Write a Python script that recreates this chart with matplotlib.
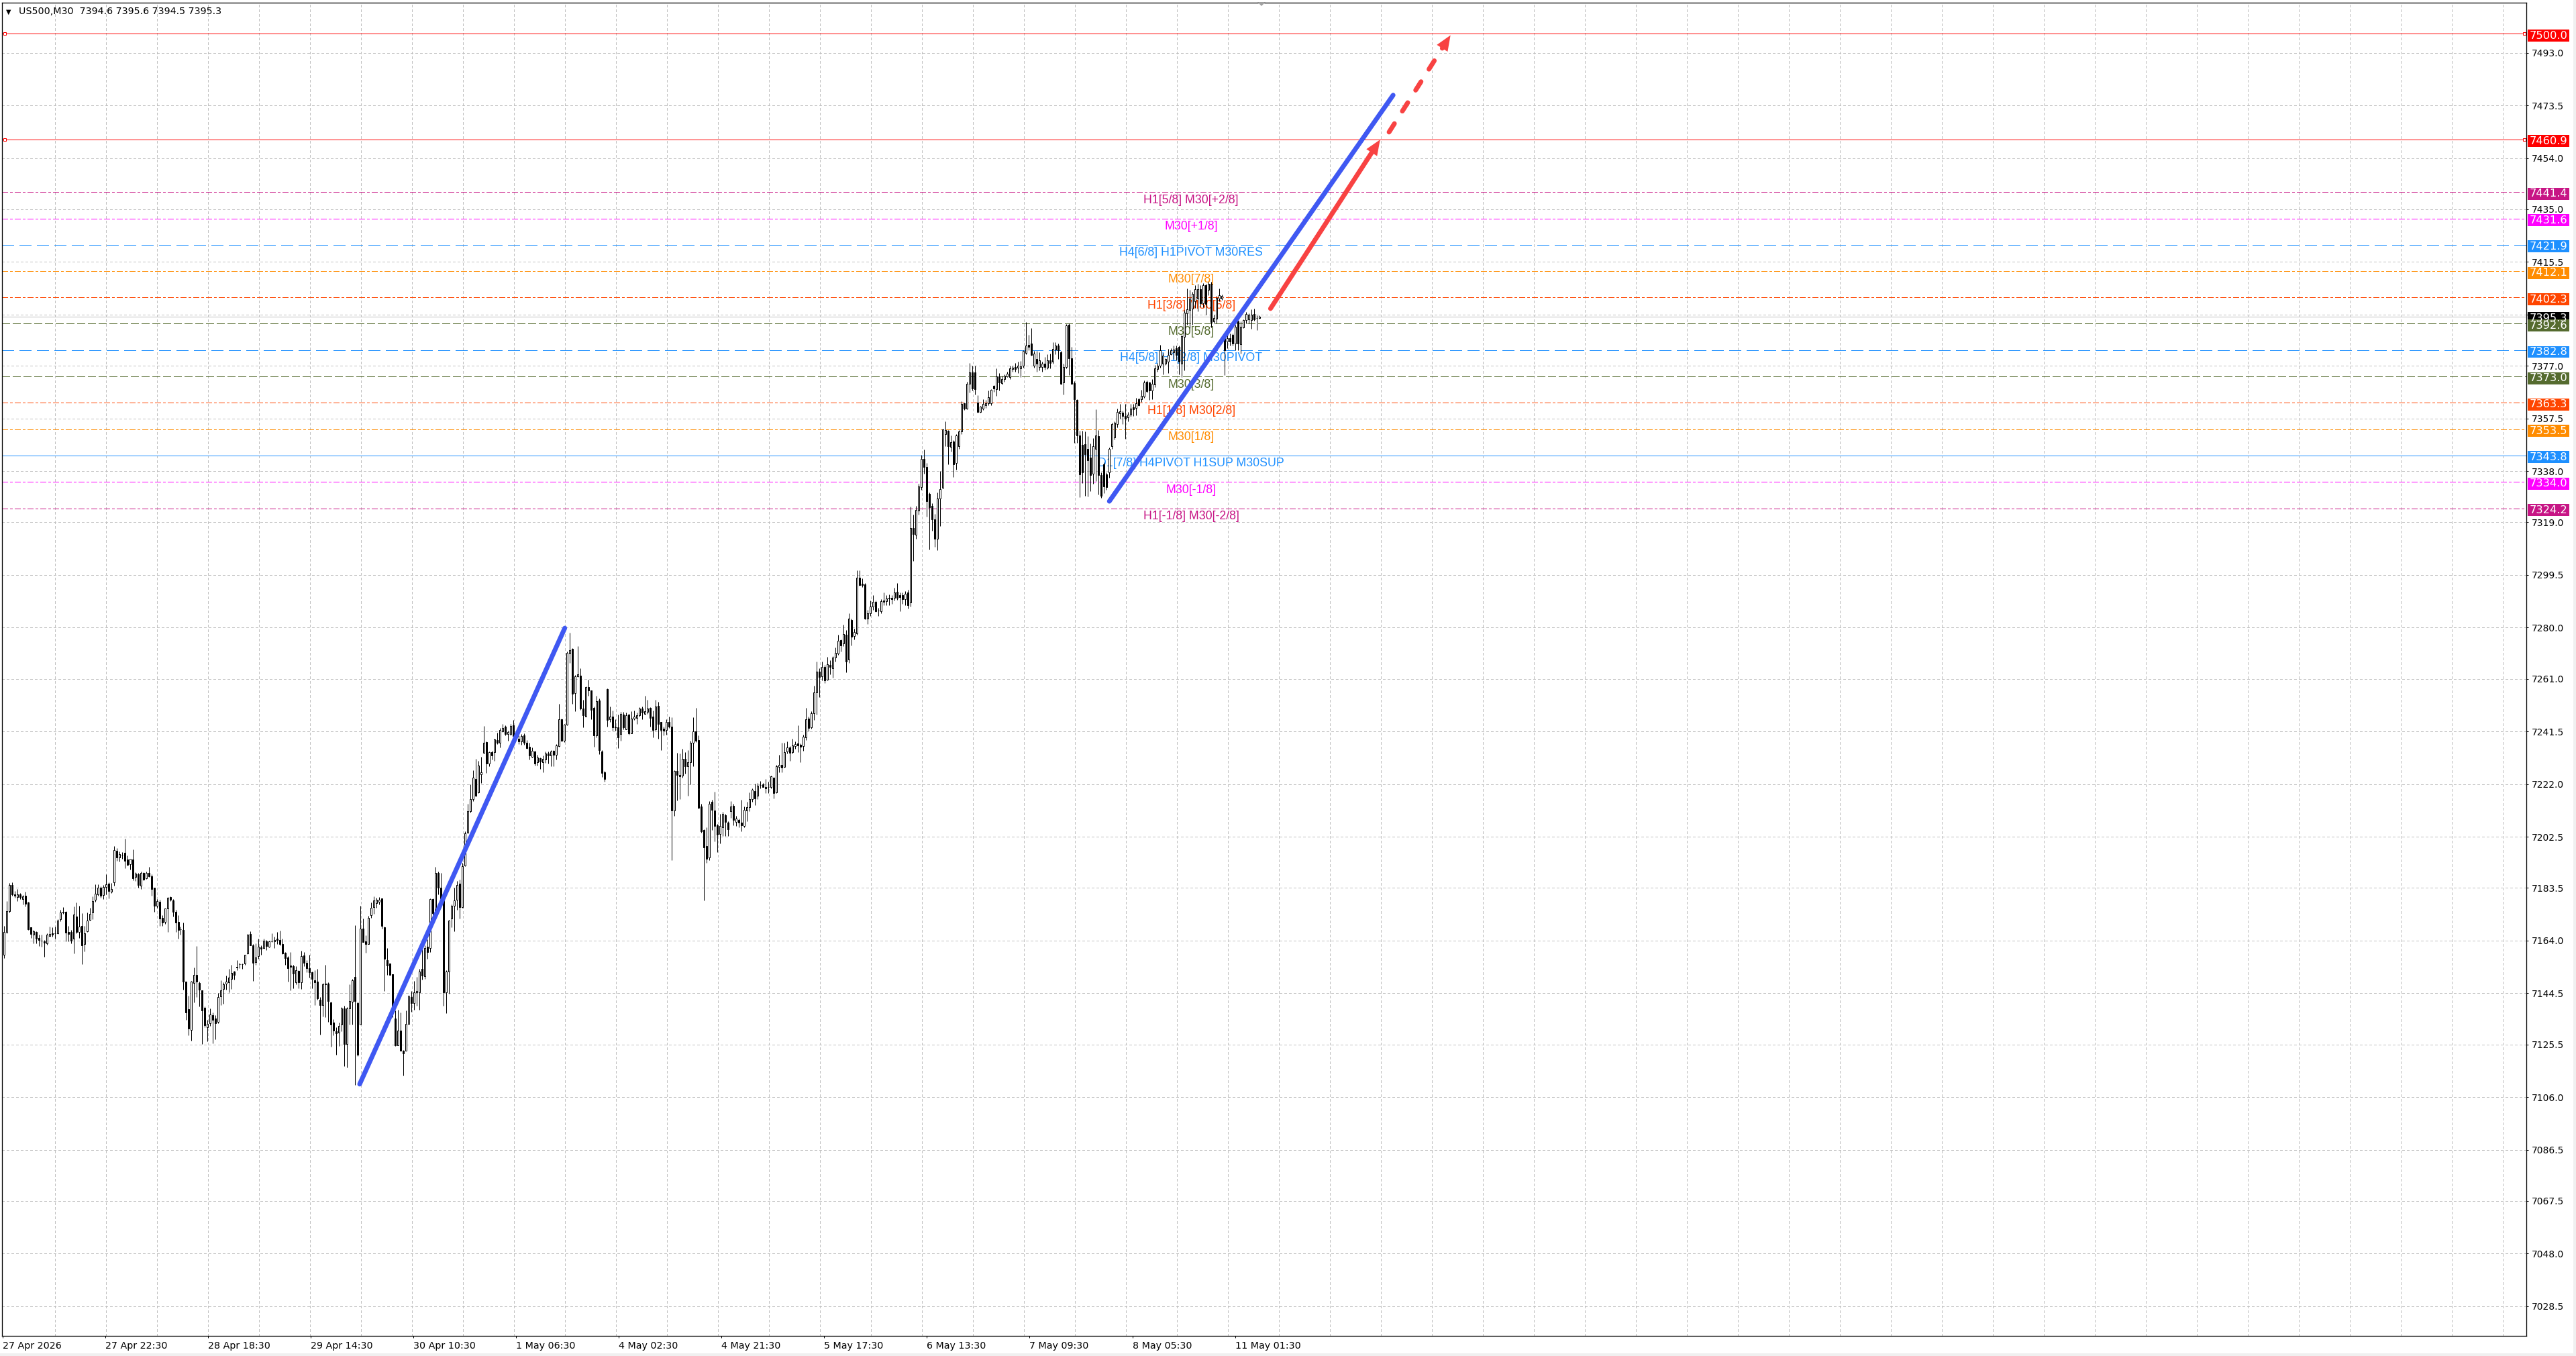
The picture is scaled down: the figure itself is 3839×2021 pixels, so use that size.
import numpy as np
import matplotlib
matplotlib.use("Agg")
import matplotlib.pyplot as plt
import matplotlib.transforms as mtransforms
from matplotlib.patches import Rectangle, Polygon

plt.rcParams["lines.scale_dashes"] = False
plt.rcParams["font.family"] = ["DejaVu Sans"]

# ---------------- DATA ----------------
SYMBOL_TITLE = "US500,M30  7394.6 7395.6 7394.5 7395.3"

# OHLC rows (open, high, low, close) per 30-minute bar
bars_27_28_apr = [
    (7158.8, 7169.5, 7157.5, 7167.1), (7167.1, 7178.7, 7166.6, 7174.9), (7174.9, 7185.3, 7174.5, 7184.6),
    (7184.6, 7185.7, 7180.7, 7181.1), (7181.1, 7182.4, 7179.9, 7180.6), (7180.1, 7183.2, 7178.7, 7181.1),
    (7181.1, 7181.6, 7179.5, 7180.1), (7179.5, 7180.9, 7177.4, 7180.3), (7180.6, 7182.0, 7176.6, 7177.6),
    (7178.1, 7178.3, 7168.0, 7168.3), (7168.9, 7168.9, 7165.0, 7166.4), (7166.1, 7167.9, 7162.9, 7167.5),
    (7167.2, 7167.5, 7162.9, 7164.8), (7165.0, 7166.2, 7162.1, 7164.2), (7163.9, 7166.2, 7161.7, 7163.9),
    (7163.7, 7164.2, 7158.1, 7163.1), (7162.9, 7166.6, 7162.5, 7166.2), (7165.8, 7169.1, 7165.4, 7166.5),
    (7166.6, 7168.9, 7165.4, 7166.2), (7166.6, 7169.1, 7164.6, 7166.6), (7166.8, 7172.0, 7166.4, 7171.4),
    (7171.9, 7175.5, 7171.2, 7174.3), (7174.3, 7176.4, 7173.9, 7174.7), (7174.7, 7174.9, 7163.6, 7166.9),
    (7167.1, 7169.5, 7163.7, 7166.4), (7167.1, 7167.9, 7162.9, 7163.9), (7164.6, 7176.6, 7159.2, 7173.7),
    (7172.9, 7178.2, 7166.6, 7167.3), (7167.3, 7176.8, 7165.0, 7169.1), (7169.5, 7174.1, 7155.3, 7162.3),
    (7162.7, 7169.5, 7160.0, 7166.6), (7167.5, 7174.4, 7167.1, 7171.4), (7171.6, 7176.2, 7171.4, 7173.9),
    (7174.3, 7180.3, 7172.0, 7178.7), (7179.1, 7184.9, 7178.4, 7181.3), (7181.1, 7184.9, 7180.7, 7183.6),
    (7183.6, 7184.0, 7179.9, 7180.7), (7180.9, 7184.6, 7179.3, 7183.8), (7183.8, 7188.6, 7181.1, 7184.9),
    (7185.1, 7185.5, 7179.7, 7182.4), (7182.0, 7185.3, 7181.6, 7183.0), (7185.7, 7199.0, 7184.3, 7197.5),
    (7197.3, 7198.4, 7193.6, 7194.8), (7194.8, 7197.0, 7193.4, 7196.1), (7195.6, 7196.9, 7194.4, 7195.6),
    (7196.5, 7201.7, 7190.7, 7193.6), (7194.0, 7195.6, 7191.7, 7192.1), (7192.3, 7194.4, 7190.3, 7194.2),
    (7194.0, 7197.9, 7186.3, 7187.1), (7187.6, 7189.4, 7186.1, 7188.8), (7188.6, 7189.0, 7183.5, 7184.5),
    (7184.3, 7189.6, 7183.2, 7189.0), (7189.0, 7189.4, 7186.3, 7186.7), (7187.1, 7189.6, 7186.8, 7189.0),
    (7189.0, 7191.3, 7187.6, 7187.8), (7187.8, 7188.6, 7180.7, 7183.0), (7183.5, 7183.5, 7174.7, 7176.8),
    (7177.0, 7179.3, 7176.2, 7178.7), (7178.4, 7179.1, 7169.5, 7172.2), (7172.4, 7173.3, 7169.5, 7170.8),
    (7171.0, 7175.8, 7170.2, 7175.8), (7175.8, 7180.2, 7167.1, 7179.9), (7180.1, 7180.5, 7178.7, 7179.1),
    (7178.8, 7179.5, 7172.9, 7174.7), (7174.7, 7175.3, 7167.1, 7170.8), (7171.0, 7173.4, 7164.8, 7167.9),
    (7168.1, 7169.3, 7166.2, 7168.1), (7167.9, 7170.8, 7145.7, 7148.8), (7148.8, 7148.8, 7134.6, 7137.4),
    (7138.5, 7143.7, 7128.8, 7131.3), (7131.0, 7149.0, 7126.9, 7148.8), (7148.3, 7154.0, 7141.0, 7151.3),
    (7151.2, 7162.1, 7143.0, 7148.8), (7148.4, 7148.8, 7139.7, 7145.7), (7145.5, 7145.5, 7125.6, 7138.1),
    (7139.1, 7139.7, 7131.8, 7132.7), (7132.0, 7134.7, 7126.6, 7133.1), (7133.3, 7138.9, 7132.3, 7136.6),
    (7136.4, 7137.4, 7126.0, 7134.7), (7135.2, 7136.4, 7127.3, 7133.3), (7133.9, 7144.5, 7133.5, 7143.2),
    (7143.4, 7149.4, 7140.1, 7145.5),
]

bars_29_30_apr = [
    (7146.0, 7148.5, 7140.6, 7147.7), (7148.0, 7151.0, 7145.8, 7148.8), (7148.5, 7153.4, 7144.9, 7150.4),
    (7149.7, 7154.9, 7146.0, 7152.1), (7152.6, 7152.8, 7149.6, 7151.2), (7154.3, 7156.8, 7153.0, 7153.9),
    (7155.3, 7155.7, 7153.7, 7155.3), (7155.3, 7155.5, 7153.5, 7155.3), (7155.4, 7158.8, 7155.1, 7158.7),
    (7159.3, 7166.5, 7159.0, 7166.3), (7166.5, 7167.5, 7162.2, 7162.3), (7162.3, 7162.6, 7149.1, 7155.7),
    (7155.9, 7163.0, 7154.9, 7157.8), (7158.2, 7164.6, 7157.2, 7161.7), (7161.5, 7162.2, 7158.8, 7160.9),
    (7161.3, 7164.6, 7160.9, 7164.0), (7163.8, 7164.2, 7160.5, 7162.0), (7161.7, 7164.0, 7161.5, 7163.8),
    (7163.8, 7166.7, 7163.4, 7163.8), (7163.7, 7165.5, 7161.2, 7164.2), (7164.6, 7167.1, 7162.8, 7164.2),
    (7164.2, 7167.8, 7162.3, 7162.6), (7162.8, 7164.6, 7159.0, 7159.3), (7159.5, 7159.8, 7155.1, 7157.4),
    (7157.8, 7158.2, 7148.9, 7153.7), (7154.7, 7159.7, 7145.6, 7154.3), (7154.5, 7155.1, 7146.3, 7151.8),
    (7148.5, 7154.5, 7147.9, 7153.1), (7152.9, 7153.1, 7146.4, 7148.5), (7148.5, 7160.3, 7146.0, 7158.2),
    (7158.4, 7159.7, 7154.5, 7155.7), (7155.7, 7156.8, 7152.2, 7153.7), (7153.7, 7158.7, 7150.4, 7152.2),
    (7152.4, 7152.6, 7146.3, 7149.9), (7149.3, 7153.1, 7140.2, 7148.5), (7148.7, 7153.5, 7142.1, 7142.7),
    (7142.1, 7143.1, 7129.2, 7140.2), (7140.2, 7148.2, 7135.8, 7147.7), (7148.1, 7155.1, 7135.6, 7147.7),
    (7148.1, 7148.5, 7133.8, 7141.6), (7141.0, 7141.4, 7124.7, 7133.0), (7133.6, 7134.8, 7129.0, 7130.7),
    (7130.5, 7131.9, 7121.7, 7129.7), (7129.8, 7133.6, 7124.9, 7132.5), (7133.0, 7139.4, 7130.5, 7138.8),
    (7138.9, 7139.8, 7117.4, 7125.7), (7125.7, 7139.4, 7117.0, 7138.9), (7138.9, 7147.7, 7132.8, 7141.6),
    (7141.4, 7149.7, 7133.0, 7149.3), (7150.5, 7169.6, 7110.4, 7141.6), (7140.8, 7141.4, 7121.1, 7121.6),
    (7133.0, 7176.9, 7133.0, 7168.4), (7168.4, 7172.1, 7163.4, 7163.4), (7163.8, 7165.9, 7159.5, 7162.8),
    (7162.8, 7173.1, 7162.8, 7172.5), (7173.3, 7178.1, 7172.5, 7176.2), (7176.4, 7180.5, 7173.8, 7178.9),
    (7177.9, 7180.0, 7176.1, 7179.1), (7178.3, 7180.2, 7177.5, 7179.1), (7179.6, 7179.7, 7168.4, 7169.5),
    (7168.9, 7169.2, 7145.4, 7157.2), (7156.8, 7161.3, 7151.4, 7154.7), (7155.4, 7155.5, 7151.2, 7151.4),
    (7151.6, 7151.6, 7135.5, 7138.8), (7135.2, 7138.1, 7125.0, 7125.3), (7125.3, 7138.3, 7125.1, 7130.7),
    (7130.7, 7137.3, 7123.2, 7123.2), (7123.1, 7123.4, 7114.1, 7122.2), (7123.2, 7138.0, 7123.1, 7133.2),
    (7133.2, 7143.8, 7132.8, 7143.3), (7143.1, 7145.2, 7137.5, 7140.8), (7140.8, 7149.1, 7138.3, 7144.9),
    (7144.8, 7150.6, 7139.8, 7145.2), (7144.8, 7153.5, 7138.3, 7152.6), (7153.5, 7160.9, 7149.6, 7151.0),
    (7150.7, 7162.2, 7149.7, 7161.3), (7161.7, 7164.5, 7157.2, 7159.8), (7161.2, 7179.7, 7159.7, 7179.4),
    (7179.4, 7179.7, 7173.3, 7174.2), (7174.2, 7191.2, 7173.8, 7189.1), (7189.1, 7189.5, 7181.2, 7183.5),
    (7183.5, 7189.1, 7179.4, 7179.7), (7179.7, 7180.0, 7139.8, 7144.9), (7144.9, 7153.0, 7137.1, 7152.6),
    (7152.6, 7171.7, 7144.3, 7171.4), (7172.1, 7177.5, 7169.0, 7176.9), (7177.0, 7183.7, 7167.5, 7178.9),
    (7179.1, 7186.2, 7175.4, 7184.7), (7185.2, 7186.6, 7172.1, 7176.4), (7176.4, 7192.8, 7176.2, 7191.6),
]

bars_30apr_4may = [
    (7191.9, 7204.5, 7191.6, 7203.8), (7204.1, 7214.8, 7203.8, 7211.9), (7211.9, 7221.8, 7211.5, 7216.5),
    (7216.5, 7227.0, 7215.6, 7224.3), (7223.9, 7231.4, 7217.5, 7217.7), (7219.0, 7230.5, 7218.7, 7228.9),
    (7225.6, 7232.2, 7222.3, 7226.4), (7233.6, 7243.6, 7233.4, 7237.4), (7237.6, 7237.8, 7226.2, 7229.7),
    (7229.7, 7234.1, 7228.6, 7233.9), (7233.9, 7234.4, 7231.0, 7232.5), (7233.9, 7238.8, 7230.5, 7238.6),
    (7238.4, 7241.1, 7236.9, 7237.4), (7237.4, 7242.7, 7235.5, 7242.1), (7241.6, 7244.2, 7241.3, 7242.7),
    (7243.4, 7243.8, 7240.1, 7240.5), (7240.5, 7241.7, 7238.0, 7241.2), (7240.5, 7244.4, 7240.1, 7243.6),
    (7243.8, 7245.7, 7239.4, 7239.9), (7239.9, 7241.7, 7238.4, 7239.2), (7238.8, 7240.1, 7236.8, 7237.8),
    (7237.8, 7240.5, 7236.6, 7239.9), (7240.1, 7240.7, 7236.6, 7237.4), (7237.4, 7238.4, 7235.1, 7235.3),
    (7235.9, 7237.2, 7231.1, 7232.5), (7232.0, 7235.5, 7231.8, 7234.3), (7234.1, 7234.3, 7228.9, 7229.5),
    (7230.1, 7232.8, 7228.9, 7231.8), (7231.6, 7231.8, 7227.6, 7230.3), (7230.1, 7232.6, 7226.4, 7231.4),
    (7231.1, 7234.1, 7229.9, 7233.3), (7233.3, 7234.1, 7229.5, 7232.6), (7232.6, 7234.7, 7228.6, 7234.1),
    (7234.3, 7234.7, 7228.5, 7232.8), (7232.8, 7236.8, 7231.1, 7236.3), (7236.1, 7251.7, 7235.9, 7246.0),
    (7246.0, 7246.3, 7237.8, 7238.0), (7238.0, 7244.2, 7237.6, 7244.0), (7244.0, 7271.1, 7243.8, 7270.7),
    (7270.5, 7278.2, 7266.8, 7271.7), (7272.2, 7272.4, 7251.7, 7255.4), (7255.6, 7262.4, 7249.0, 7262.0),
    (7262.0, 7273.2, 7261.6, 7262.6), (7262.3, 7264.8, 7249.6, 7249.9), (7249.9, 7253.2, 7243.0, 7247.4),
    (7247.1, 7258.3, 7246.9, 7257.9), (7257.9, 7260.8, 7254.6, 7256.6), (7256.6, 7256.8, 7245.9, 7249.6),
    (7250.2, 7250.8, 7235.9, 7240.1), (7240.1, 7254.6, 7239.2, 7252.7), (7253.1, 7253.7, 7233.0, 7234.7),
    (7234.1, 7234.7, 7224.7, 7226.2), (7226.4, 7226.8, 7222.9, 7223.9), (7257.3, 7257.5, 7243.4, 7245.7),
    (7246.0, 7250.8, 7244.9, 7247.1), (7246.9, 7249.2, 7241.7, 7243.0), (7243.1, 7245.9, 7241.7, 7243.4),
    (7243.0, 7247.7, 7235.3, 7239.2), (7240.5, 7248.8, 7238.0, 7247.9), (7247.7, 7248.8, 7242.4, 7243.0),
    (7242.4, 7248.4, 7242.2, 7247.5), (7247.7, 7248.0, 7240.2, 7240.7), (7240.9, 7249.0, 7240.7, 7246.3),
    (7246.3, 7249.2, 7245.7, 7246.9), (7246.5, 7248.4, 7244.2, 7247.4), (7247.5, 7250.4, 7247.1, 7249.9),
    (7250.0, 7250.7, 7246.0, 7248.4), (7248.0, 7254.8, 7247.7, 7249.0), (7248.8, 7253.3, 7247.9, 7250.0),
    (7250.2, 7250.4, 7243.4, 7246.5), (7246.9, 7249.2, 7239.2, 7242.1), (7242.4, 7253.3, 7241.7, 7250.8),
    (7251.0, 7252.5, 7238.8, 7244.4), (7244.9, 7245.1, 7234.7, 7242.1), (7242.6, 7243.4, 7240.1, 7241.7),
    (7242.1, 7245.9, 7240.3, 7244.9), (7244.9, 7247.1, 7242.7, 7243.4), (7243.4, 7246.7, 7193.7, 7212.3),
    (7212.3, 7227.2, 7210.3, 7226.8), (7226.8, 7233.6, 7216.0, 7225.3), (7225.3, 7233.4, 7216.5, 7224.8),
    (7225.2, 7235.1, 7224.3, 7231.4), (7231.4, 7233.8, 7226.0, 7228.5), (7228.5, 7234.7, 7217.7, 7230.0),
    (7230.0, 7238.0, 7221.8, 7237.2), (7237.2, 7246.7, 7228.5, 7241.6), (7241.6, 7250.2, 7237.6, 7238.0),
    (7238.3, 7240.1, 7212.9, 7213.2), (7213.7, 7214.8, 7204.0, 7204.4), (7204.9, 7205.3, 7178.8, 7198.6),
]

bars_5_7_may = [
    (7199.0, 7205.9, 7192.7, 7194.4), (7194.8, 7215.8, 7193.8, 7214.7), (7215.4, 7216.1, 7204.9, 7212.4),
    (7212.2, 7219.2, 7200.7, 7206.4), (7206.7, 7207.2, 7196.9, 7203.2), (7203.5, 7210.9, 7199.9, 7206.4),
    (7206.0, 7211.6, 7202.8, 7210.9), (7210.5, 7210.9, 7202.8, 7208.0), (7207.7, 7208.2, 7202.8, 7205.3),
    (7211.9, 7215.6, 7209.5, 7213.6), (7214.0, 7214.7, 7206.7, 7208.8), (7208.0, 7210.3, 7206.4, 7209.1),
    (7208.8, 7209.1, 7206.1, 7207.7), (7207.7, 7216.1, 7204.6, 7206.7), (7206.4, 7213.7, 7205.9, 7212.4),
    (7212.2, 7215.4, 7208.3, 7213.5), (7213.5, 7218.9, 7211.9, 7216.4), (7216.4, 7220.3, 7215.4, 7220.0),
    (7219.5, 7222.1, 7214.3, 7216.8), (7217.7, 7222.4, 7216.4, 7221.3), (7221.6, 7223.1, 7220.3, 7221.6),
    (7221.8, 7222.4, 7220.8, 7221.0), (7220.8, 7223.9, 7218.7, 7220.3), (7220.8, 7222.9, 7218.7, 7220.8),
    (7221.0, 7225.2, 7220.3, 7224.8), (7224.5, 7224.5, 7216.8, 7218.7), (7218.9, 7229.2, 7218.7, 7228.7),
    (7228.4, 7232.9, 7226.3, 7229.2), (7229.2, 7237.4, 7226.3, 7228.2), (7228.4, 7237.4, 7228.2, 7233.9),
    (7234.2, 7237.8, 7233.4, 7235.5), (7235.5, 7236.0, 7230.5, 7233.6), (7233.9, 7238.8, 7233.4, 7236.3),
    (7236.0, 7237.8, 7235.0, 7236.8), (7237.0, 7243.7, 7233.9, 7236.3), (7236.5, 7237.0, 7230.0, 7235.7),
    (7236.0, 7240.2, 7234.4, 7239.5), (7239.2, 7250.2, 7238.4, 7245.9), (7246.2, 7247.0, 7241.6, 7242.8),
    (7243.1, 7249.1, 7242.6, 7248.3), (7248.3, 7258.5, 7245.8, 7255.9), (7255.9, 7267.4, 7247.7, 7263.6),
    (7263.6, 7264.8, 7254.3, 7261.7), (7261.9, 7267.4, 7260.4, 7265.4), (7265.4, 7266.1, 7259.4, 7260.4),
    (7260.8, 7269.2, 7260.4, 7266.4), (7266.1, 7268.0, 7262.7, 7265.4), (7265.0, 7269.5, 7261.5, 7268.8),
    (7269.0, 7272.7, 7267.4, 7270.6), (7270.3, 7277.4, 7269.9, 7275.1), (7275.3, 7275.5, 7271.1, 7273.4),
    (7274.0, 7281.1, 7273.2, 7277.6), (7277.4, 7279.0, 7263.3, 7267.4), (7268.2, 7285.3, 7266.9, 7283.2),
    (7282.9, 7283.2, 7273.4, 7276.6), (7276.9, 7279.5, 7275.5, 7278.3), (7277.9, 7301.3, 7277.4, 7298.4),
    (7298.4, 7301.3, 7295.4, 7295.7), (7296.3, 7298.2, 7295.0, 7295.7), (7296.0, 7296.5, 7283.0, 7283.2),
    (7283.2, 7286.6, 7281.4, 7285.3), (7285.3, 7290.0, 7284.2, 7287.7), (7287.7, 7291.9, 7286.6, 7289.5),
    (7289.5, 7290.0, 7285.8, 7286.0), (7286.3, 7287.4, 7284.2, 7286.3), (7286.0, 7290.5, 7285.3, 7289.8),
    (7290.0, 7292.9, 7288.4, 7289.5), (7289.8, 7292.1, 7288.4, 7290.8), (7291.0, 7292.3, 7288.4, 7290.8),
    (7291.0, 7292.1, 7288.9, 7290.5), (7291.0, 7294.7, 7290.0, 7292.9), (7293.3, 7296.5, 7290.2, 7291.0),
    (7291.9, 7293.1, 7286.0, 7291.2), (7292.1, 7293.1, 7288.9, 7290.5), (7290.5, 7293.6, 7288.4, 7292.6),
    (7293.1, 7294.0, 7287.1, 7288.4), (7289.2, 7324.8, 7287.7, 7317.0), (7317.0, 7321.9, 7304.7, 7314.6),
    (7314.3, 7325.1, 7313.0, 7323.7), (7323.3, 7333.2, 7321.9, 7332.4), (7332.1, 7344.0, 7331.0, 7342.5),
    (7342.5, 7346.0, 7337.0, 7339.5), (7339.5, 7341.0, 7321.0, 7326.9), (7329.6, 7330.0, 7309.0, 7324.6),
    (7325.0, 7326.0, 7316.0, 7320.2), (7320.0, 7322.0, 7310.0, 7312.8), (7313.0, 7330.0, 7308.6, 7327.7),
]

bars_7_11_may = [
    (7327.9, 7338.0, 7317.7, 7331.4), (7331.8, 7353.6, 7331.6, 7353.4), (7351.7, 7356.3, 7347.1, 7353.1),
    (7353.0, 7353.1, 7340.5, 7347.1), (7347.0, 7351.3, 7345.3, 7348.6), (7349.0, 7349.5, 7335.7, 7340.5),
    (7340.9, 7351.7, 7338.4, 7351.3), (7347.3, 7353.1, 7346.3, 7352.8), (7352.8, 7363.9, 7351.7, 7362.9),
    (7363.1, 7363.3, 7360.6, 7361.1), (7361.2, 7371.2, 7360.8, 7370.3), (7370.3, 7378.0, 7367.2, 7374.5),
    (7374.5, 7377.1, 7367.9, 7368.5), (7374.5, 7377.1, 7366.4, 7368.3), (7363.3, 7366.2, 7359.7, 7360.0),
    (7360.0, 7362.2, 7359.6, 7361.9), (7361.2, 7364.5, 7360.6, 7362.9), (7362.5, 7364.4, 7361.4, 7363.1),
    (7363.1, 7367.9, 7362.5, 7365.4), (7363.1, 7368.3, 7362.5, 7368.0), (7369.5, 7369.8, 7367.4, 7368.7),
    (7368.3, 7376.1, 7365.8, 7373.0), (7373.0, 7374.3, 7367.9, 7370.8), (7370.5, 7373.2, 7370.2, 7372.0),
    (7372.0, 7373.7, 7371.2, 7373.2), (7373.0, 7374.9, 7372.7, 7374.1), (7372.8, 7377.0, 7372.0, 7376.0),
    (7375.7, 7377.1, 7374.9, 7376.3), (7376.6, 7378.0, 7374.7, 7375.7), (7376.3, 7378.6, 7374.3, 7377.0),
    (7376.1, 7378.8, 7372.8, 7376.9), (7377.0, 7382.8, 7376.3, 7382.4), (7381.8, 7393.1, 7381.3, 7384.4),
    (7384.8, 7388.6, 7382.8, 7384.0), (7385.3, 7390.9, 7380.7, 7381.0), (7377.1, 7382.4, 7376.4, 7381.5),
    (7379.5, 7382.4, 7374.9, 7377.8), (7376.6, 7381.9, 7375.2, 7379.1), (7376.6, 7378.6, 7374.7, 7377.8),
    (7377.8, 7380.3, 7375.5, 7376.6), (7376.3, 7381.3, 7375.7, 7379.1), (7379.0, 7381.5, 7376.1, 7378.0),
    (7378.6, 7385.7, 7377.8, 7383.2), (7383.1, 7385.7, 7381.3, 7384.6), (7384.6, 7385.3, 7379.5, 7382.8),
    (7382.1, 7382.4, 7370.0, 7370.3), (7370.8, 7377.8, 7366.4, 7376.6), (7376.6, 7392.5, 7376.1, 7391.9),
    (7392.3, 7392.6, 7373.5, 7379.9), (7379.9, 7384.0, 7370.2, 7370.3), (7370.7, 7371.3, 7348.4, 7364.7),
    (7364.4, 7364.5, 7348.4, 7351.3), (7351.3, 7353.0, 7328.3, 7336.8), (7347.6, 7353.0, 7333.5, 7337.6),
    (7348.0, 7352.8, 7328.8, 7344.2), (7346.3, 7350.9, 7328.5, 7342.0), (7343.0, 7348.1, 7330.6, 7336.5),
    (7337.0, 7350.1, 7333.2, 7347.3), (7346.3, 7361.0, 7334.3, 7351.3), (7350.9, 7353.1, 7329.3, 7336.5),
    (7336.5, 7337.6, 7328.1, 7328.9), (7340.5, 7341.3, 7329.7, 7332.2), (7336.8, 7337.6, 7331.0, 7332.1),
    (7337.6, 7346.7, 7335.5, 7346.3), (7347.1, 7355.8, 7346.3, 7355.4), (7350.5, 7356.3, 7349.6, 7355.8),
    (7355.4, 7361.2, 7354.2, 7360.0), (7359.4, 7362.9, 7357.5, 7360.2), (7359.6, 7360.4, 7355.4, 7358.3),
    (7358.3, 7362.9, 7350.0, 7357.5), (7357.9, 7360.0, 7356.4, 7358.9), (7358.9, 7362.9, 7358.1, 7361.2),
    (7361.6, 7362.9, 7358.3, 7360.8), (7361.4, 7365.2, 7358.6, 7363.1), (7364.7, 7365.2, 7362.1, 7362.5),
    (7364.7, 7368.0, 7363.7, 7365.8), (7365.5, 7371.6, 7365.0, 7370.8), (7371.0, 7371.6, 7367.2, 7367.7),
    (7370.8, 7371.2, 7364.4, 7367.9), (7367.9, 7372.0, 7364.7, 7370.3), (7370.2, 7377.4, 7369.1, 7376.1),
    (7375.7, 7378.0, 7374.9, 7377.1), (7377.1, 7384.8, 7376.3, 7382.8), (7377.8, 7381.8, 7373.7, 7380.7),
    (7377.8, 7379.9, 7377.4, 7379.5), (7378.6, 7383.2, 7374.3, 7381.1), (7381.3, 7383.6, 7381.1, 7382.8),
    (7382.1, 7384.6, 7379.5, 7382.9), (7383.4, 7384.4, 7379.0, 7381.1), (7384.0, 7384.4, 7373.7, 7378.6),
    (7377.8, 7388.6, 7372.8, 7387.9), (7387.7, 7397.7, 7375.3, 7396.7), (7396.5, 7405.6, 7392.3, 7397.9),
    (7397.7, 7405.1, 7390.9, 7402.0), (7398.1, 7404.3, 7392.1, 7403.7), (7401.0, 7406.8, 7398.5, 7405.3),
    (7401.8, 7407.5, 7397.3, 7405.3), (7405.3, 7407.0, 7398.9, 7400.2), (7400.2, 7407.6, 7398.7, 7406.8),
    (7406.8, 7407.5, 7396.0, 7399.8), (7405.1, 7408.1, 7403.1, 7407.5), (7407.5, 7408.1, 7391.2, 7393.1),
    (7393.5, 7396.0, 7392.7, 7394.8), (7394.4, 7402.8, 7392.7, 7402.2), (7402.0, 7405.6, 7401.0, 7403.1),
    (7402.0, 7403.5, 7401.4, 7402.8), (7388.2, 7389.0, 7373.5, 7382.8), (7386.1, 7388.6, 7383.6, 7387.3),
    (7387.3, 7389.0, 7384.4, 7386.1), (7388.6, 7389.0, 7384.4, 7385.3), (7385.3, 7392.3, 7382.8, 7391.5),
    (7393.4, 7394.0, 7382.8, 7385.3), (7385.1, 7393.5, 7381.5, 7391.5), (7391.3, 7394.2, 7390.9, 7394.0),
    (7394.0, 7396.9, 7392.7, 7396.2), (7394.2, 7396.4, 7392.7, 7396.0), (7394.0, 7397.9, 7390.6, 7396.0),
    (7396.2, 7398.1, 7393.7, 7394.2), (7394.8, 7395.6, 7390.2, 7394.8), (7394.6, 7395.6, 7394.5, 7395.3),
]

# Murrey-math style level lines
level_prices = [7441.4, 7431.6, 7421.9, 7412.1, 7402.3, 7392.6, 7382.8, 7373.0,
                7363.3, 7353.5, 7343.8, 7334.0, 7324.2]
level_labels = ["H1[5/8] M30[+2/8]", "M30[+1/8]", "H4[6/8] H1PIVOT M30RES", "M30[7/8]",
                "H1[3/8] M30[6/8]", "M30[5/8]", "H4[5/8] H1[2/8] M30PIVOT", "M30[3/8]",
                "H1[1/8] M30[2/8]", "M30[1/8]", "D1[7/8] H4PIVOT H1SUP M30SUP", "M30[-1/8]",
                "H1[-1/8] M30[-2/8]"]
level_colors = ["#c71585", "#ff00ff", "#1e90ff", "#ff8c00", "#ff4500", "#556b2f", "#1e90ff",
                "#556b2f", "#ff4500", "#ff8c00", "#1e90ff", "#ff00ff", "#c71585"]
level_kinds = ["dashdot", "dashdot", "dash", "dashdot", "dashdot", "dash2", "dash", "dash2",
               "dashdot", "dashdot", "solid", "dashdot", "dashdot"]

target_prices = [7500.0, 7460.9]
bid_price = 7395.3

y_tick_values = [7493.0, 7473.5, 7454.0, 7435.0, 7415.5, 7396.0, 7377.0, 7357.5, 7338.0, 7319.0,
                 7299.5, 7280.0, 7261.0, 7241.5, 7222.0, 7202.5, 7183.5, 7164.0, 7144.5, 7125.5,
                 7106.0, 7086.5, 7067.5, 7048.0, 7028.5]
x_tick_labels = ["27 Apr 2026", "27 Apr 22:30", "28 Apr 18:30", "29 Apr 14:30", "30 Apr 10:30",
                 "1 May 06:30", "4 May 02:30", "4 May 21:30", "5 May 17:30", "6 May 13:30",
                 "7 May 09:30", "8 May 05:30", "11 May 01:30"]

# drawn objects: (bar position, price) anchors
blue_trend_1 = [(139.6, 7110.8), (220.05, 7279.8)]
blue_trend_2 = [(433.6, 7326.8), (544.9, 7477.3)]
red_arrow_solid = [(496.8, 7398.2), (539.8, 7460.8)]
red_arrow_dashed = [(543.3, 7463.6), (567.4, 7499.5)]

# ---------------- LAYOUT ----------------
W, H, DPI = 3839, 2021, 100
PX = 72.0 / DPI                      # one pixel in points
L_PX, R_PX, T_PX, B_PX = 2.7, 3765.3, 4.0, 1990.8
X_MIN, X_MAX = -0.74, 989.4
Y_MIN, Y_MAX = 7017.57, 7511.56
LAST_BAR_POS = 492.6
LABEL_STEP = 40.28
TEXT_X = 465.7

fig = plt.figure(figsize=(W / DPI, H / DPI), dpi=DPI, facecolor="white")
ax = fig.add_axes([L_PX / W, 1 - B_PX / H, (R_PX - L_PX) / W, (B_PX - T_PX) / H])
ax.set_xlim(X_MIN, X_MAX)
ax.set_ylim(Y_MIN, Y_MAX)
ax.set_facecolor("white")
PPX = (Y_MAX - Y_MIN) / (B_PX - T_PX)        # price per pixel
AXW = R_PX - L_PX

# background strips of the terminal window
fig.patches.append(Rectangle((0, 0), 1, 4 / H, transform=fig.transFigure, facecolor="#f0f0f0",
                             edgecolor="none", zorder=0))
fig.patches.append(Rectangle((3835 / W, 0), 4 / W, 1, transform=fig.transFigure, facecolor="#f0f0f0",
                             edgecolor="none", zorder=0))

grid_style = dict(color="#c0c0c0", lw=PX, ls=(0, (3 * PX, 3 * PX)), zorder=1, antialiased=False)
for k in range(1, 50):
    ax.axvline(20 * k, **grid_style)
for v in y_tick_values:
    ax.axhline(v, **grid_style)

dash_map = {
    "solid": "-",
    "dash": (0, (18 * PX, 9 * PX)),
    "dash2": (0, (11 * PX, 5 * PX)),
    "dashdot": (0, (9 * PX, 4 * PX, 3 * PX, 4 * PX)),
}

for p, lbl, col, kind in zip(level_prices, level_labels, level_colors, level_kinds):
    ax.axhline(p, color=col, lw=PX, ls=dash_map[kind], zorder=2, antialiased=False)
    ax.annotate(lbl, xy=(TEXT_X, p), xytext=(0, -2.6), textcoords="offset points",
                ha="center", va="top", color=col, fontsize=12.8,
                fontfamily=["Liberation Sans", "DejaVu Sans"], zorder=3)

ax.axhline(bid_price, color="#c0c0c0", lw=PX, zorder=2, antialiased=False)

tb = mtransforms.blended_transform_factory(ax.transAxes, ax.transData)
for p in target_prices:
    ax.axhline(p, color="#ff0000", lw=PX, zorder=2, antialiased=False)
    ax.plot([4.6 / AXW, (3762 - L_PX) / AXW], [p, p], transform=tb, ls="none", marker="s",
            ms=3.2, mfc="white", mec="#ff0000", mew=PX, zorder=2.5, clip_on=False)

# candles
ohlc = np.array(bars_27_28_apr + bars_29_30_apr + bars_30apr_4may + bars_5_7_may + bars_7_11_may)
o, h, l, c = ohlc.T
n = len(c)
x = np.linspace(0, LAST_BAR_POS, n)
bull = c >= o
body_w = 2.0 / 3.8
ax.vlines(x, l, h, color="black", lw=PX, zorder=4)
ax.bar(x[bull], (c - o)[bull], bottom=o[bull], width=body_w, facecolor="white",
       edgecolor="black", lw=PX, zorder=5)
ax.bar(x[~bull], (o - c)[~bull], bottom=c[~bull], width=body_w, facecolor="black",
       edgecolor="black", lw=PX, zorder=5)

# trend lines
BLUE = "#3f58f2"
RED = "#f84242"
for seg in (blue_trend_1, blue_trend_2):
    xs, ys = zip(*seg)
    ax.plot(xs, ys, color=BLUE, lw=7 * PX, solid_capstyle="round", zorder=7)


def arrow(seg, dashed):
    (x0, y0), (x1, y1) = seg
    p0 = ax.transData.transform((x0, y0))
    p1 = ax.transData.transform((x1, y1))
    d = p1 - p0
    d = d / np.hypot(*d)
    nrm = np.array([-d[1], d[0]])
    head_len, head_half = 23.0, 9.5
    base = p1 - d * head_len
    inv = ax.transData.inverted()
    bx, by = inv.transform(base + d * 2)
    if dashed:
        ax.plot([x0, bx], [y0, by], color=RED, lw=7 * PX, ls=(0, (15 * PX, 22 * PX)),
                dash_capstyle="round", solid_capstyle="round", zorder=7)
    else:
        ax.plot([x0, bx], [y0, by], color=RED, lw=7 * PX, solid_capstyle="round", zorder=7)
    pts = inv.transform(np.array([p1, base + nrm * head_half, base - nrm * head_half]))
    ax.add_patch(Polygon(pts, closed=True, facecolor=RED, edgecolor="none", zorder=7))


arrow(red_arrow_solid, dashed=False)
arrow(red_arrow_dashed, dashed=True)

# axes and ticks
for s in ax.spines.values():
    s.set_color("black")
    s.set_linewidth(1.3 * PX)
ax.yaxis.tick_right()
ax.set_yticks(y_tick_values)
ax.set_yticklabels([("" if v == 7396.0 else f"{v:.1f}") for v in y_tick_values])
ax.tick_params(axis="y", length=3 * PX, width=PX, pad=5 * PX, labelsize=10, colors="black")
xt = [-0.45 + LABEL_STEP * k for k in range(len(x_tick_labels))]
ax.set_xticks(xt)
ax.set_xticklabels(x_tick_labels, ha="left")
ax.tick_params(axis="x", length=3 * PX, width=PX, pad=5 * PX, labelsize=10.3, colors="black")

# price tags on the right scale
BOX_X0 = (3766.7 - L_PX) / AXW
BOX_W = 62.3 / AXW
tags = [(bid_price, "black")] + list(zip(target_prices, ["#ff0000", "#ff0000"])) + \
       list(zip(level_prices, level_colors))
for p, col in tags:
    top = p + 6.3 * PPX
    bot = p - 11.6 * PPX
    ax.add_patch(Rectangle((BOX_X0, bot), BOX_W, top - bot, transform=tb, facecolor=col,
                           edgecolor="none", clip_on=False, zorder=10))
    ax.text(BOX_X0 + 2.6 / AXW, (top + bot) / 2, f"{p:.1f}", transform=tb, color="white",
            fontsize=11.7, ha="left", va="center", clip_on=False, zorder=11)

# title and shift marker
fig.text(12.5 / W, 1 - 17.5 / H, "\u25bc", fontsize=7, ha="center", va="center", color="black")
fig.text(28 / W, 1 - 17.0 / H, SYMBOL_TITLE, fontsize=10.3, ha="left", va="center", color="black")
fig.patches.append(Polygon([[1874 / W, 1 - 3 / H], [1886 / W, 1 - 3 / H], [1880 / W, 1 - 9 / H]],
                           closed=True, transform=fig.transFigure, facecolor="#a0a0a0",
                           edgecolor="none", zorder=5))

fig.savefig("out.png", dpi=DPI, facecolor="white")
